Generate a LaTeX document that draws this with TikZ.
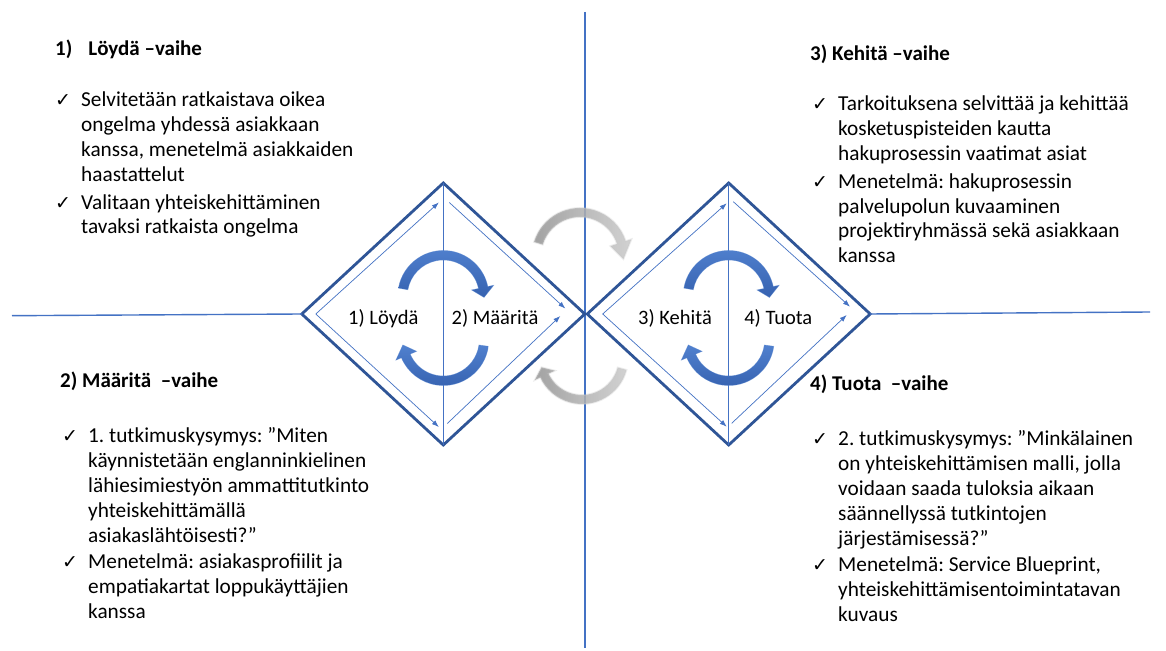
\documentclass[tikz,border=0pt]{standalone}
\usepackage{fontspec}
\setmainfont{Carlito}
\newfontfamily\symfont{DejaVu Sans}
\usetikzlibrary{shapes.geometric,arrows.meta}
\frenchspacing

\definecolor{lineblue}{HTML}{4472C4}
\definecolor{edgeblue}{HTML}{2F5597}
\definecolor{arcA}{HTML}{5080CE}
\definecolor{arcB}{HTML}{3662B0}
\definecolor{greyA}{HTML}{CACACA}
\definecolor{greyB}{HTML}{939393}

% check mark used as the bullet of every list item
\newcommand{\ck}{\makebox[26pt][l]{\symfont\fontsize{19}{19}\selectfont ✓}}

% block arc arrow drawn round the origin of the current shift:
% #1 style, #2 inner radius, #3 outer radius, #4 start angle, #5 end angle, #6 tip angle
\newcommand{\blockarc}[6]{%
  \path[#1] (#4:#3) arc[start angle=#4,end angle=#5,radius=#3]
    -- (#5:{#3+6}) -- (#6:{(#2+#3)/2}) -- (#5:{#2-7}) -- (#5:#2)
    arc[start angle=#5,end angle=#4,radius=#2] -- cycle;}

\tikzset{
  dmd/.style={diamond, draw=edgeblue, line width=2.8pt, minimum width=283pt,
    minimum height=262pt, inner sep=0pt, outer sep=0pt},
  midline/.style={draw=lineblue, line width=1.2pt},
  crossline/.style={draw=lineblue, line width=1.4pt},
  flow/.style={draw=lineblue, line width=0.7pt, -{Latex[length=7pt,width=5pt]}},
  lbl/.style={inner sep=0pt, font=\fontsize{20.5}{24}\selectfont},
  blueshade/.style={shade, top color=arcA, bottom color=arcB, draw=arcA,
    line width=0.6pt, draw opacity=0.5},
  greyshade/.style={shade, left color=greyB, right color=greyA, draw=greyA,
    line width=1.8pt, draw opacity=0.35, fill opacity=0.85},
  head/.style={anchor=base west, inner sep=0pt, font=\bfseries\fontsize{21}{24}\selectfont},
  body/.style={anchor=base west, inner sep=0pt, font=\fontsize{21.3}{24.8}\selectfont},
}

\begin{document}
\begin{tikzpicture}[x=1pt,y=1pt]
\useasboundingbox (0,0) rectangle (1166,650);
\fill[white] (0,0) rectangle (1166,650);

% axes of the four-phase field
\coordinate (vtop) at (585,638);
\coordinate (vbot) at (585,2);
\coordinate (hleft) at (12,334.3);
\coordinate (hright) at (1150,338);
\draw[crossline] (vtop) -- (vbot);

% left diamond: Löydä / Määritä
\begin{scope}[shift={(443.3,336)}, name prefix=L-]
  \node[dmd] (d) at (0,0) {};
  \draw[midline] (d.north) -- (d.south);
  \coordinate (iv) at (-127.5,0);
  \coordinate (ul) at (-4.5,111.5);
  \coordinate (ll) at (-4.5,-113);
  \coordinate (urs) at (6,111.5);
  \coordinate (ure) at (122,5.5);
  \coordinate (lrs) at (4,-109.5);
  \coordinate (lre) at (117,-2);
  \draw[flow] (iv) -- (ul);
  \draw[flow] (iv) -- (ll);
  \draw[flow] (urs) -- (ure);
  \draw[flow] (lrs) -- (lre);
  \blockarc{blueshade, shift={(0,18)}}{36}{45.5}{170}{12}{-2}
  \blockarc{blueshade, shift={(0,-26)}}{36}{45.5}{-8}{-157}{-173}
  \node[lbl] (a) at (-60,-4.3) {1) Löydä};
  \node[lbl] (b) at (51.7,-4.3) {2) Määritä};
\end{scope}

% right diamond: Kehitä / Tuota
\begin{scope}[shift={(728.7,336)}, name prefix=R-]
  \node[dmd] (d) at (0,0) {};
  \draw[midline] (d.north) -- (d.south);
  \coordinate (iv) at (-126,0);
  \coordinate (ul) at (-2,110.7);
  \coordinate (ll) at (-2,-112.7);
  \coordinate (urs) at (4.6,112.3);
  \coordinate (ure) at (121.3,7.3);
  \coordinate (lrs) at (3,-109.3);
  \coordinate (lre) at (118,-1);
  \draw[flow] (iv) -- (ul);
  \draw[flow] (iv) -- (ll);
  \draw[flow] (urs) -- (ure);
  \draw[flow] (lrs) -- (lre);
  \blockarc{blueshade, shift={(0,18)}}{36}{45.5}{170}{12}{-2}
  \blockarc{blueshade, shift={(0,-26)}}{36}{45.5}{-8}{-157}{-173}
  \node[lbl] (a) at (-53.7,-4.3) {3) Kehitä};
  \node[lbl] (b) at (49.6,-4.3) {4) Tuota};
\end{scope}

\draw[crossline] (hleft) -- (L-d.west);
\draw[crossline] (R-d.east) -- (hright);

% soft grey arrows linking the two diamonds
\blockarc{greyshade, shift={(580,394)}}{39}{48}{163}{18}{-4}
\blockarc{greyshade, shift={(582,292)}}{37}{46}{-15}{-155}{-167}

% phase descriptions
\node[head] (h1) at (55,594) {1)\hspace{16pt}Löydä –vaihe};
\node[body] (t1) at (55,543) {\begin{tabular}[t]{@{}l@{}l@{}}
\ck & Selvitetään ratkaistava oikea\\
 & ongelma yhdessä asiakkaan\\
 & kanssa, menetelmä asiakkaiden\\
 & haastattelut\\[3pt]
\ck & Valitaan yhteiskehittäminen\\
 & tavaksi ratkaista ongelma
\end{tabular}};

\node[head] (h3) at (810,589) {3) Kehitä –vaihe};
\node[body] (t3) at (812,539) {\begin{tabular}[t]{@{}l@{}l@{}}
\ck & Tarkoituksena selvittää ja kehittää\\
 & kosketuspisteiden kautta\\
 & hakuprosessin vaatimat asiat\\[3pt]
\ck & Menetelmä: hakuprosessin\\
 & palvelupolun kuvaaminen\\
 & projektiryhmässä sekä asiakkaan\\
 & kanssa
\end{tabular}};

\node[head] (h2) at (60,262) {2) Määritä\ \ –vaihe};
\node[body] (t2) at (62,207) {\begin{tabular}[t]{@{}l@{}l@{}}
\ck & 1. tutkimuskysymys: ”Miten\\
 & käynnistetään englanninkielinen\\
 & lähiesimiestyön ammattitutkinto\\
 & yhteiskehittämällä\\
 & asiakaslähtöisesti?”\\[2pt]
\ck & Menetelmä: asiakasprofiilit ja\\
 & empatiakartat loppukäyttäjien\\
 & kanssa
\end{tabular}};

\node[head] (h4) at (810,259) {4) Tuota\ \ –vaihe};
\node[body] (t4) at (812,204) {\begin{tabular}[t]{@{}l@{}l@{}}
\ck & 2. tutkimuskysymys: ”Minkälainen\\
 & on yhteiskehittämisen malli, jolla\\
 & voidaan saada tuloksia aikaan\\
 & säännellyssä tutkintojen\\
 & järjestämisessä?”\\[2pt]
\ck & Menetelmä: Service Blueprint,\\
 & yhteiskehittämisentoimintatavan\\
 & kuvaus
\end{tabular}};
\end{tikzpicture}
\end{document}
